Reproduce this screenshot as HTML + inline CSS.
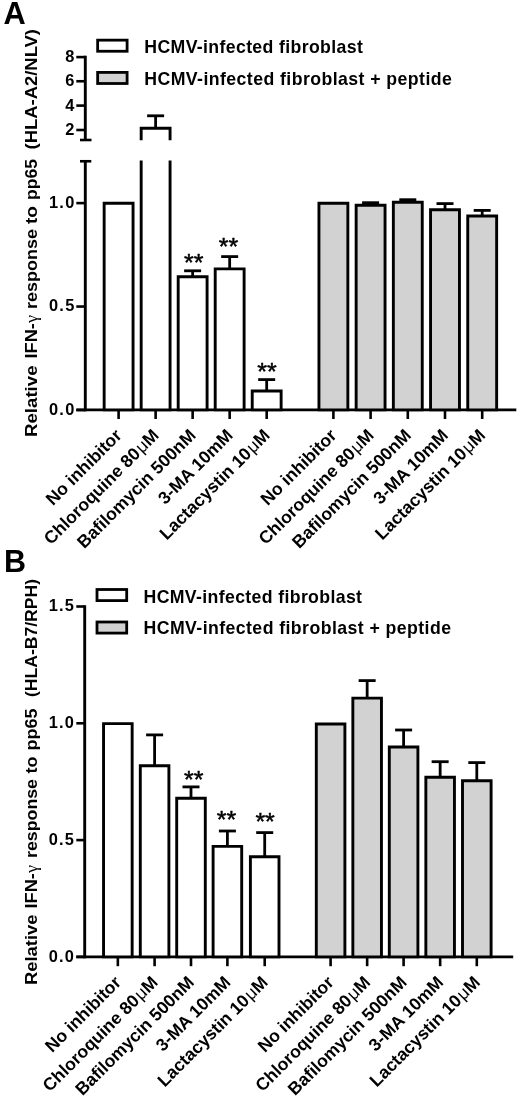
<!DOCTYPE html>
<html><head><meta charset="utf-8"><style>
html,body{margin:0;padding:0;background:#fff;overflow:hidden;width:520px;height:1101px;}
svg{display:block;filter:grayscale(1);}
text{stroke:none;fill:#000;}
</style></head><body>
<svg width="520" height="1101" viewBox="0 0 520 1101" font-family='"Liberation Sans", sans-serif' font-weight="bold" fill="#000" stroke="#000">
<g>
<text x="3.60" y="24.20" font-size="30.8">A</text>
<rect x="97.65" y="40.15" width="29.45" height="11.10" fill="#fff" stroke-width="2.8"/>
<rect x="97.65" y="72.40" width="29.45" height="11.10" fill="#d2d2d2" stroke-width="2.8"/>
<text x="144.30" y="52.80" font-size="17.7" textLength="218.5" lengthAdjust="spacing">HCMV-infected fibroblast</text>
<text x="144.30" y="84.70" font-size="17.7" textLength="307.5" lengthAdjust="spacing">HCMV-infected fibroblast + peptide</text>
<text x="0" y="0" font-size="17.4" textLength="71.50" lengthAdjust="spacingAndGlyphs" transform="translate(36.9,437.00) rotate(-90)">Relative</text>
<text x="0" y="0" font-size="17.4" textLength="43.50" lengthAdjust="spacingAndGlyphs" transform="translate(36.9,358.50) rotate(-90)">IFN-<tspan font-family="Liberation Serif" font-weight="normal">&#947;</tspan></text>
<text x="0" y="0" font-size="17.4" textLength="80.00" lengthAdjust="spacingAndGlyphs" transform="translate(36.9,309.00) rotate(-90)">response</text>
<text x="0" y="0" font-size="17.4" textLength="18.00" lengthAdjust="spacingAndGlyphs" transform="translate(36.9,224.00) rotate(-90)">to</text>
<text x="0" y="0" font-size="17.4" textLength="41.00" lengthAdjust="spacingAndGlyphs" transform="translate(36.9,200.00) rotate(-90)">pp65</text>
<text x="0" y="0" font-size="17.4" textLength="120.50" lengthAdjust="spacingAndGlyphs" transform="translate(36.9,149.50) rotate(-90)">(HLA-A2/NLV)</text>
<line x1="85.30" y1="55.70" x2="85.30" y2="140.00" stroke-width="2.9" stroke-linecap="butt"/>
<line x1="76.30" y1="57.10" x2="85.30" y2="57.10" stroke-width="2.6" stroke-linecap="butt"/>
<text x="75.55" y="62.00" font-size="16.4" text-anchor="end" letter-spacing="1.25">8</text>
<line x1="76.30" y1="81.25" x2="85.30" y2="81.25" stroke-width="2.6" stroke-linecap="butt"/>
<text x="75.55" y="86.15" font-size="16.4" text-anchor="end" letter-spacing="1.25">6</text>
<line x1="76.30" y1="105.60" x2="85.30" y2="105.60" stroke-width="2.6" stroke-linecap="butt"/>
<text x="75.55" y="110.50" font-size="16.4" text-anchor="end" letter-spacing="1.25">4</text>
<line x1="76.30" y1="130.00" x2="85.30" y2="130.00" stroke-width="2.6" stroke-linecap="butt"/>
<text x="75.55" y="134.90" font-size="16.4" text-anchor="end" letter-spacing="1.25">2</text>
<line x1="80.00" y1="140.00" x2="91.50" y2="140.00" stroke-width="2.6" stroke-linecap="butt"/>
<line x1="85.30" y1="161.25" x2="85.30" y2="411.30" stroke-width="2.9" stroke-linecap="butt"/>
<line x1="80.00" y1="161.25" x2="91.30" y2="161.25" stroke-width="2.6" stroke-linecap="butt"/>
<line x1="76.30" y1="203.10" x2="85.30" y2="203.10" stroke-width="2.6" stroke-linecap="butt"/>
<text x="75.55" y="208.00" font-size="16.4" text-anchor="end" letter-spacing="1.25">1.0</text>
<line x1="76.30" y1="306.55" x2="85.30" y2="306.55" stroke-width="2.6" stroke-linecap="butt"/>
<text x="75.55" y="311.45" font-size="16.4" text-anchor="end" letter-spacing="1.25">0.5</text>
<line x1="76.30" y1="410.00" x2="85.30" y2="410.00" stroke-width="2.6" stroke-linecap="butt"/>
<text x="75.55" y="414.90" font-size="16.4" text-anchor="end" letter-spacing="1.25">0.0</text>
<line x1="76.30" y1="409.90" x2="516.30" y2="409.90" stroke-width="2.9" stroke-linecap="butt"/>
<rect x="104.15" y="203.30" width="28.90" height="206.60" fill="#fff" stroke="none"/>
<path d="M104.15,409.90 L104.15,203.30 L133.05,203.30 L133.05,409.90 Z" fill="none" stroke-width="2.9" stroke-linejoin="miter"/>
<rect x="141.17" y="160.60" width="28.90" height="249.30" fill="#fff" stroke="none"/>
<path d="M141.17,160.60 L141.17,409.90 L170.07,409.90 L170.07,160.60" fill="none" stroke-width="2.9" stroke-linejoin="miter"/>
<rect x="141.17" y="128.20" width="28.90" height="12.05" fill="#fff" stroke="none"/>
<path d="M141.17,140.25 L141.17,128.20 L170.07,128.20 L170.07,140.25" fill="none" stroke-width="2.9" stroke-linejoin="miter"/>
<line x1="155.62" y1="128.20" x2="155.62" y2="115.80" stroke-width="2.8" stroke-linecap="butt"/>
<line x1="147.12" y1="115.80" x2="164.12" y2="115.80" stroke-width="2.8" stroke-linecap="butt"/>
<rect x="178.19" y="276.70" width="28.90" height="133.20" fill="#fff" stroke="none"/>
<path d="M178.19,409.90 L178.19,276.70 L207.09,276.70 L207.09,409.90 Z" fill="none" stroke-width="2.9" stroke-linejoin="miter"/>
<line x1="192.64" y1="276.70" x2="192.64" y2="270.80" stroke-width="2.8" stroke-linecap="butt"/>
<line x1="184.14" y1="270.80" x2="201.14" y2="270.80" stroke-width="2.8" stroke-linecap="butt"/>
<rect x="215.21" y="268.90" width="28.90" height="141.00" fill="#fff" stroke="none"/>
<path d="M215.21,409.90 L215.21,268.90 L244.11,268.90 L244.11,409.90 Z" fill="none" stroke-width="2.9" stroke-linejoin="miter"/>
<line x1="229.66" y1="268.90" x2="229.66" y2="256.60" stroke-width="2.8" stroke-linecap="butt"/>
<line x1="221.16" y1="256.60" x2="238.16" y2="256.60" stroke-width="2.8" stroke-linecap="butt"/>
<rect x="252.23" y="391.00" width="28.90" height="18.90" fill="#fff" stroke="none"/>
<path d="M252.23,409.90 L252.23,391.00 L281.13,391.00 L281.13,409.90 Z" fill="none" stroke-width="2.9" stroke-linejoin="miter"/>
<line x1="266.68" y1="391.00" x2="266.68" y2="379.60" stroke-width="2.8" stroke-linecap="butt"/>
<line x1="258.18" y1="379.60" x2="275.18" y2="379.60" stroke-width="2.8" stroke-linecap="butt"/>
<text x="0" y="0" font-size="25" font-weight="normal" text-anchor="middle" style="stroke:#000;stroke-width:0.5px" transform="translate(193.75,270.65) scale(1,0.92)">**</text>
<text x="0" y="0" font-size="25" font-weight="normal" text-anchor="middle" style="stroke:#000;stroke-width:0.5px" transform="translate(228.40,255.05) scale(1,0.92)">**</text>
<text x="0" y="0" font-size="25" font-weight="normal" text-anchor="middle" style="stroke:#000;stroke-width:0.5px" transform="translate(266.90,380.05) scale(1,0.92)">**</text>
<rect x="318.95" y="203.30" width="28.90" height="206.60" fill="#d2d2d2" stroke="none"/>
<path d="M318.95,409.90 L318.95,203.30 L347.85,203.30 L347.85,409.90 Z" fill="none" stroke-width="2.9" stroke-linejoin="miter"/>
<rect x="356.15" y="205.30" width="28.90" height="204.60" fill="#d2d2d2" stroke="none"/>
<path d="M356.15,409.90 L356.15,205.30 L385.05,205.30 L385.05,409.90 Z" fill="none" stroke-width="2.9" stroke-linejoin="miter"/>
<line x1="370.60" y1="205.30" x2="370.60" y2="202.70" stroke-width="2.8" stroke-linecap="butt"/>
<line x1="362.10" y1="202.70" x2="379.10" y2="202.70" stroke-width="2.8" stroke-linecap="butt"/>
<rect x="393.35" y="202.20" width="28.90" height="207.70" fill="#d2d2d2" stroke="none"/>
<path d="M393.35,409.90 L393.35,202.20 L422.25,202.20 L422.25,409.90 Z" fill="none" stroke-width="2.9" stroke-linejoin="miter"/>
<line x1="407.80" y1="202.20" x2="407.80" y2="199.70" stroke-width="2.8" stroke-linecap="butt"/>
<line x1="399.30" y1="199.70" x2="416.30" y2="199.70" stroke-width="2.8" stroke-linecap="butt"/>
<rect x="430.55" y="209.70" width="28.90" height="200.20" fill="#d2d2d2" stroke="none"/>
<path d="M430.55,409.90 L430.55,209.70 L459.45,209.70 L459.45,409.90 Z" fill="none" stroke-width="2.9" stroke-linejoin="miter"/>
<line x1="445.00" y1="209.70" x2="445.00" y2="203.60" stroke-width="2.8" stroke-linecap="butt"/>
<line x1="436.50" y1="203.60" x2="453.50" y2="203.60" stroke-width="2.8" stroke-linecap="butt"/>
<rect x="467.75" y="216.00" width="28.90" height="193.90" fill="#d2d2d2" stroke="none"/>
<path d="M467.75,409.90 L467.75,216.00 L496.65,216.00 L496.65,409.90 Z" fill="none" stroke-width="2.9" stroke-linejoin="miter"/>
<line x1="482.20" y1="216.00" x2="482.20" y2="210.40" stroke-width="2.8" stroke-linecap="butt"/>
<line x1="473.70" y1="210.40" x2="490.70" y2="210.40" stroke-width="2.8" stroke-linecap="butt"/>
<line x1="118.60" y1="409.90" x2="118.60" y2="419.00" stroke-width="2.6" stroke-linecap="butt"/>
<line x1="155.62" y1="409.90" x2="155.62" y2="419.00" stroke-width="2.6" stroke-linecap="butt"/>
<line x1="192.64" y1="409.90" x2="192.64" y2="419.00" stroke-width="2.6" stroke-linecap="butt"/>
<line x1="229.66" y1="409.90" x2="229.66" y2="419.00" stroke-width="2.6" stroke-linecap="butt"/>
<line x1="266.68" y1="409.90" x2="266.68" y2="419.00" stroke-width="2.6" stroke-linecap="butt"/>
<line x1="333.40" y1="409.90" x2="333.40" y2="419.00" stroke-width="2.6" stroke-linecap="butt"/>
<line x1="370.60" y1="409.90" x2="370.60" y2="419.00" stroke-width="2.6" stroke-linecap="butt"/>
<line x1="407.80" y1="409.90" x2="407.80" y2="419.00" stroke-width="2.6" stroke-linecap="butt"/>
<line x1="445.00" y1="409.90" x2="445.00" y2="419.00" stroke-width="2.6" stroke-linecap="butt"/>
<line x1="482.20" y1="409.90" x2="482.20" y2="419.00" stroke-width="2.6" stroke-linecap="butt"/>
<text x="0" y="0" font-size="17.6" text-anchor="end" transform="translate(122.80,436.50) rotate(-45)">No inhibitor</text>
<text x="0" y="0" font-size="17.6" text-anchor="end" transform="translate(159.82,436.50) rotate(-45)">Chloroquine 80<tspan font-weight="normal" dx="1.2">&#956;</tspan>M</text>
<text x="0" y="0" font-size="17.6" text-anchor="end" transform="translate(196.84,436.50) rotate(-45)">Bafilomycin 500nM</text>
<text x="0" y="0" font-size="17.6" text-anchor="end" transform="translate(233.86,436.50) rotate(-45)">3-MA 10mM</text>
<text x="0" y="0" font-size="17.6" text-anchor="end" transform="translate(270.88,436.50) rotate(-45)">Lactacystin 10<tspan font-weight="normal" dx="1.2">&#956;</tspan>M</text>
<text x="0" y="0" font-size="17.6" text-anchor="end" transform="translate(337.60,436.50) rotate(-45)">No inhibitor</text>
<text x="0" y="0" font-size="17.6" text-anchor="end" transform="translate(374.80,436.50) rotate(-45)">Chloroquine 80<tspan font-weight="normal" dx="1.2">&#956;</tspan>M</text>
<text x="0" y="0" font-size="17.6" text-anchor="end" transform="translate(412.00,436.50) rotate(-45)">Bafilomycin 500nM</text>
<text x="0" y="0" font-size="17.6" text-anchor="end" transform="translate(449.20,436.50) rotate(-45)">3-MA 10mM</text>
<text x="0" y="0" font-size="17.6" text-anchor="end" transform="translate(486.40,436.50) rotate(-45)">Lactacystin 10<tspan font-weight="normal" dx="1.2">&#956;</tspan>M</text>
<text x="4.00" y="571.90" font-size="30.5">B</text>
<rect x="97.00" y="589.50" width="29.70" height="11.10" fill="#fff" stroke-width="2.8"/>
<rect x="97.00" y="622.00" width="29.70" height="11.10" fill="#d2d2d2" stroke-width="2.8"/>
<text x="143.50" y="602.60" font-size="17.7" textLength="218.5" lengthAdjust="spacing">HCMV-infected fibroblast</text>
<text x="143.50" y="634.30" font-size="17.7" textLength="307.5" lengthAdjust="spacing">HCMV-infected fibroblast + peptide</text>
<text x="0" y="0" font-size="17.4" textLength="70.50" lengthAdjust="spacingAndGlyphs" transform="translate(36.9,985.00) rotate(-90)">Relative</text>
<text x="0" y="0" font-size="17.4" textLength="43.50" lengthAdjust="spacingAndGlyphs" transform="translate(36.9,908.50) rotate(-90)">IFN-<tspan font-family="Liberation Serif" font-weight="normal">&#947;</tspan></text>
<text x="0" y="0" font-size="17.4" textLength="79.00" lengthAdjust="spacingAndGlyphs" transform="translate(36.9,858.00) rotate(-90)">response</text>
<text x="0" y="0" font-size="17.4" textLength="17.00" lengthAdjust="spacingAndGlyphs" transform="translate(36.9,773.50) rotate(-90)">to</text>
<text x="0" y="0" font-size="17.4" textLength="42.00" lengthAdjust="spacingAndGlyphs" transform="translate(36.9,750.50) rotate(-90)">pp65</text>
<text x="0" y="0" font-size="17.4" textLength="118.00" lengthAdjust="spacingAndGlyphs" transform="translate(36.9,697.00) rotate(-90)">(HLA-B7/RPH)</text>
<line x1="84.70" y1="605.20" x2="84.70" y2="958.20" stroke-width="2.9" stroke-linecap="butt"/>
<line x1="76.30" y1="606.50" x2="84.70" y2="606.50" stroke-width="2.6" stroke-linecap="butt"/>
<text x="75.25" y="611.40" font-size="16.4" text-anchor="end" letter-spacing="1.25">1.5</text>
<line x1="76.30" y1="723.30" x2="84.70" y2="723.30" stroke-width="2.6" stroke-linecap="butt"/>
<text x="75.25" y="728.20" font-size="16.4" text-anchor="end" letter-spacing="1.25">1.0</text>
<line x1="76.30" y1="840.10" x2="84.70" y2="840.10" stroke-width="2.6" stroke-linecap="butt"/>
<text x="75.25" y="845.00" font-size="16.4" text-anchor="end" letter-spacing="1.25">0.5</text>
<line x1="76.30" y1="956.90" x2="84.70" y2="956.90" stroke-width="2.6" stroke-linecap="butt"/>
<text x="75.25" y="961.80" font-size="16.4" text-anchor="end" letter-spacing="1.25">0.0</text>
<line x1="76.30" y1="956.90" x2="513.20" y2="956.90" stroke-width="2.9" stroke-linecap="butt"/>
<rect x="103.55" y="723.60" width="28.60" height="233.30" fill="#fff" stroke="none"/>
<path d="M103.55,956.90 L103.55,723.60 L132.15,723.60 L132.15,956.90 Z" fill="none" stroke-width="2.9" stroke-linejoin="miter"/>
<rect x="140.30" y="765.80" width="28.60" height="191.10" fill="#fff" stroke="none"/>
<path d="M140.30,956.90 L140.30,765.80 L168.90,765.80 L168.90,956.90 Z" fill="none" stroke-width="2.9" stroke-linejoin="miter"/>
<line x1="154.60" y1="765.80" x2="154.60" y2="734.90" stroke-width="2.8" stroke-linecap="butt"/>
<line x1="146.10" y1="734.90" x2="163.10" y2="734.90" stroke-width="2.8" stroke-linecap="butt"/>
<rect x="176.70" y="798.30" width="28.60" height="158.60" fill="#fff" stroke="none"/>
<path d="M176.70,956.90 L176.70,798.30 L205.30,798.30 L205.30,956.90 Z" fill="none" stroke-width="2.9" stroke-linejoin="miter"/>
<line x1="191.00" y1="798.30" x2="191.00" y2="786.90" stroke-width="2.8" stroke-linecap="butt"/>
<line x1="182.50" y1="786.90" x2="199.50" y2="786.90" stroke-width="2.8" stroke-linecap="butt"/>
<rect x="213.10" y="846.40" width="28.60" height="110.50" fill="#fff" stroke="none"/>
<path d="M213.10,956.90 L213.10,846.40 L241.70,846.40 L241.70,956.90 Z" fill="none" stroke-width="2.9" stroke-linejoin="miter"/>
<line x1="227.40" y1="846.40" x2="227.40" y2="831.00" stroke-width="2.8" stroke-linecap="butt"/>
<line x1="218.90" y1="831.00" x2="235.90" y2="831.00" stroke-width="2.8" stroke-linecap="butt"/>
<rect x="250.40" y="856.70" width="28.60" height="100.20" fill="#fff" stroke="none"/>
<path d="M250.40,956.90 L250.40,856.70 L279.00,856.70 L279.00,956.90 Z" fill="none" stroke-width="2.9" stroke-linejoin="miter"/>
<line x1="264.70" y1="856.70" x2="264.70" y2="832.60" stroke-width="2.8" stroke-linecap="butt"/>
<line x1="256.20" y1="832.60" x2="273.20" y2="832.60" stroke-width="2.8" stroke-linecap="butt"/>
<rect x="316.30" y="724.00" width="28.60" height="232.90" fill="#d2d2d2" stroke="none"/>
<path d="M316.30,956.90 L316.30,724.00 L344.90,724.00 L344.90,956.90 Z" fill="none" stroke-width="2.9" stroke-linejoin="miter"/>
<rect x="352.85" y="698.10" width="28.60" height="258.80" fill="#d2d2d2" stroke="none"/>
<path d="M352.85,956.90 L352.85,698.10 L381.45,698.10 L381.45,956.90 Z" fill="none" stroke-width="2.9" stroke-linejoin="miter"/>
<line x1="367.15" y1="698.10" x2="367.15" y2="680.60" stroke-width="2.8" stroke-linecap="butt"/>
<line x1="358.65" y1="680.60" x2="375.65" y2="680.60" stroke-width="2.8" stroke-linecap="butt"/>
<rect x="389.30" y="747.00" width="28.60" height="209.90" fill="#d2d2d2" stroke="none"/>
<path d="M389.30,956.90 L389.30,747.00 L417.90,747.00 L417.90,956.90 Z" fill="none" stroke-width="2.9" stroke-linejoin="miter"/>
<line x1="403.60" y1="747.00" x2="403.60" y2="730.00" stroke-width="2.8" stroke-linecap="butt"/>
<line x1="395.10" y1="730.00" x2="412.10" y2="730.00" stroke-width="2.8" stroke-linecap="butt"/>
<rect x="425.85" y="777.20" width="28.60" height="179.70" fill="#d2d2d2" stroke="none"/>
<path d="M425.85,956.90 L425.85,777.20 L454.45,777.20 L454.45,956.90 Z" fill="none" stroke-width="2.9" stroke-linejoin="miter"/>
<line x1="440.15" y1="777.20" x2="440.15" y2="761.70" stroke-width="2.8" stroke-linecap="butt"/>
<line x1="431.65" y1="761.70" x2="448.65" y2="761.70" stroke-width="2.8" stroke-linecap="butt"/>
<rect x="462.50" y="780.80" width="28.60" height="176.10" fill="#d2d2d2" stroke="none"/>
<path d="M462.50,956.90 L462.50,780.80 L491.10,780.80 L491.10,956.90 Z" fill="none" stroke-width="2.9" stroke-linejoin="miter"/>
<line x1="476.80" y1="780.80" x2="476.80" y2="762.60" stroke-width="2.8" stroke-linecap="butt"/>
<line x1="468.30" y1="762.60" x2="485.30" y2="762.60" stroke-width="2.8" stroke-linecap="butt"/>
<text x="0" y="0" font-size="25" font-weight="normal" text-anchor="middle" style="stroke:#000;stroke-width:0.5px" transform="translate(193.75,787.55) scale(1,0.92)">**</text>
<text x="0" y="0" font-size="25" font-weight="normal" text-anchor="middle" style="stroke:#000;stroke-width:0.5px" transform="translate(226.40,827.75) scale(1,0.92)">**</text>
<text x="0" y="0" font-size="25" font-weight="normal" text-anchor="middle" style="stroke:#000;stroke-width:0.5px" transform="translate(265.10,830.05) scale(1,0.92)">**</text>
<line x1="117.85" y1="956.90" x2="117.85" y2="966.20" stroke-width="2.6" stroke-linecap="butt"/>
<line x1="154.60" y1="956.90" x2="154.60" y2="966.20" stroke-width="2.6" stroke-linecap="butt"/>
<line x1="191.00" y1="956.90" x2="191.00" y2="966.20" stroke-width="2.6" stroke-linecap="butt"/>
<line x1="227.40" y1="956.90" x2="227.40" y2="966.20" stroke-width="2.6" stroke-linecap="butt"/>
<line x1="264.70" y1="956.90" x2="264.70" y2="966.20" stroke-width="2.6" stroke-linecap="butt"/>
<line x1="330.60" y1="956.90" x2="330.60" y2="966.20" stroke-width="2.6" stroke-linecap="butt"/>
<line x1="367.15" y1="956.90" x2="367.15" y2="966.20" stroke-width="2.6" stroke-linecap="butt"/>
<line x1="403.60" y1="956.90" x2="403.60" y2="966.20" stroke-width="2.6" stroke-linecap="butt"/>
<line x1="440.15" y1="956.90" x2="440.15" y2="966.20" stroke-width="2.6" stroke-linecap="butt"/>
<line x1="476.80" y1="956.90" x2="476.80" y2="966.20" stroke-width="2.6" stroke-linecap="butt"/>
<text x="0" y="0" font-size="17.6" text-anchor="end" transform="translate(122.05,983.50) rotate(-45)">No inhibitor</text>
<text x="0" y="0" font-size="17.6" text-anchor="end" transform="translate(158.80,983.50) rotate(-45)">Chloroquine 80<tspan font-weight="normal" dx="1.2">&#956;</tspan>M</text>
<text x="0" y="0" font-size="17.6" text-anchor="end" transform="translate(195.20,983.50) rotate(-45)">Bafilomycin 500nM</text>
<text x="0" y="0" font-size="17.6" text-anchor="end" transform="translate(231.60,983.50) rotate(-45)">3-MA 10mM</text>
<text x="0" y="0" font-size="17.6" text-anchor="end" transform="translate(268.90,983.50) rotate(-45)">Lactacystin 10<tspan font-weight="normal" dx="1.2">&#956;</tspan>M</text>
<text x="0" y="0" font-size="17.6" text-anchor="end" transform="translate(334.80,983.50) rotate(-45)">No inhibitor</text>
<text x="0" y="0" font-size="17.6" text-anchor="end" transform="translate(371.35,983.50) rotate(-45)">Chloroquine 80<tspan font-weight="normal" dx="1.2">&#956;</tspan>M</text>
<text x="0" y="0" font-size="17.6" text-anchor="end" transform="translate(407.80,983.50) rotate(-45)">Bafilomycin 500nM</text>
<text x="0" y="0" font-size="17.6" text-anchor="end" transform="translate(444.35,983.50) rotate(-45)">3-MA 10mM</text>
<text x="0" y="0" font-size="17.6" text-anchor="end" transform="translate(481.00,983.50) rotate(-45)">Lactacystin 10<tspan font-weight="normal" dx="1.2">&#956;</tspan>M</text>
</g>
</svg>
</body></html>
